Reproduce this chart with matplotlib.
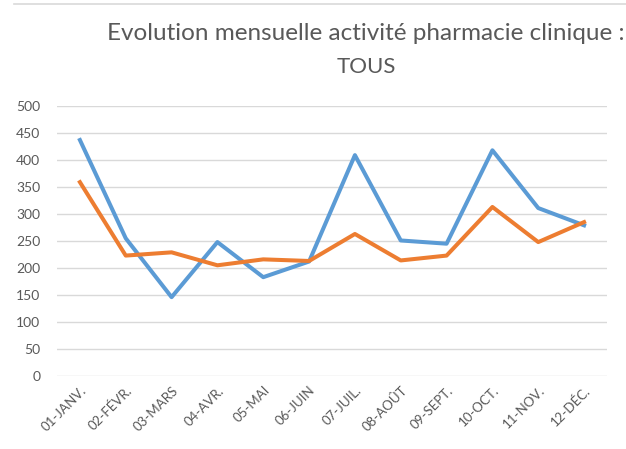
import matplotlib
matplotlib.use("Agg")
import matplotlib.pyplot as plt
from matplotlib.lines import Line2D

months = ["01-JANV.", "02-FÉVR.", "03-MARS", "04-AVR.", "05-MAI", "06-JUIN",
          "07-JUIL.", "08-AOÛT", "09-SEPT.", "10-OCT.", "11-NOV.", "12-DÉC."]
serie_bleue = [437, 255, 146, 248, 183, 212, 409, 251, 245, 418, 311, 279]
serie_orange = [359, 223, 229, 205, 216, 213, 263, 214, 223, 313, 248, 285]
yticks = [0, 50, 100, 150, 200, 250, 300, 350, 400, 450, 500]

plt.rcParams['font.family'] = ['Lato', 'DejaVu Sans']
W, H = 626, 449
fig = plt.figure(figsize=(W/100, H/100), dpi=100)
ax = fig.add_axes([57/W, 1-376/H, 550/W, 270/H])

x = list(range(len(months)))
ax.plot(x, serie_bleue, color="#5B9BD5", lw=2.9, solid_joinstyle="round", zorder=3)
ax.plot(x, serie_orange, color="#ED7D31", lw=2.9, solid_joinstyle="round", zorder=3)

ax.set_xlim(-0.5, len(months)-0.5)
ax.set_ylim(0, 500)
ax.set_yticks(yticks)
ax.set_yticklabels([str(v) for v in yticks], color="#595959", fontsize=10)
ax.set_xticks(x)
ax.set_xticklabels(months, rotation=45, ha="right", rotation_mode="anchor",
                   color="#595959", fontsize=9.5)
ax.tick_params(axis="y", length=0, pad=12)
ax.tick_params(axis="x", length=0, pad=6)
ax.grid(axis="y", color="#D9D9D9", lw=1)
for s in ax.spines.values():
    s.set_visible(False)
ax.set_axisbelow(True)

fig.add_artist(Line2D([14/W, 1], [1-4/H, 1-4/H], color="#D9D9D9", lw=1.2,
                      transform=fig.transFigure))
fig.text(366/W, 1-34/H, "Evolution mensuelle activité pharmacie clinique :",
         ha="center", va="center", color="#595959", fontsize=17.5)
fig.text(366/W, 1-67/H, "TOUS", ha="center", va="center", color="#595959", fontsize=16)

fig.savefig("out.png", dpi=100)
